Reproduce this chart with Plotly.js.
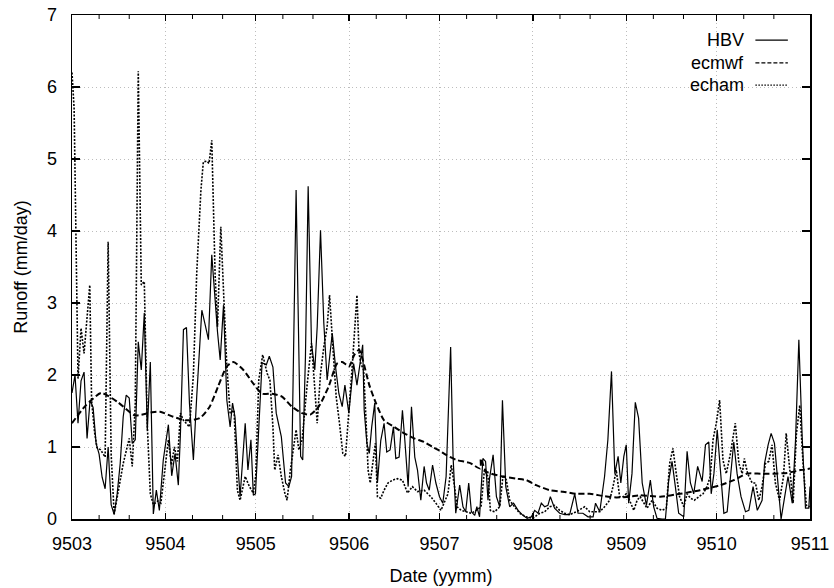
<!DOCTYPE html>
<html>
<head>
<meta charset="utf-8">
<script src="https://cdn.plot.ly/plotly-3.0.1.min.js"></script>
<style>html,body{margin:0;padding:0;background:#fff}#chart{width:834px;height:588px}</style>
</head>
<body>
<div id="chart"></div>
<script>
// Day offsets counted from 1995-03-01, values in mm/day
const startDate = '1995-03-01';
const monthLabels = ['9503','9504','9505','9506','9507','9508','9509','9510','9511'];
const monthDates = ['1995-03-01','1995-04-01','1995-05-01','1995-06-01','1995-07-01','1995-08-01','1995-09-01','1995-10-01','1995-11-01'];
const seriesNames = ['HBV','ecmwf','echam'];

const hbvDay = [0,1,2,3,4,5,6,7,8,9,10,11,12,13,14,15,16,17,18,19,20,21,22,23,24,25,26,27,28,29,30.3,
 32,33.1,34.2,35.3,36,37,38,39,40.3,41.4,43.1,44.2,45.3,46.4,47.5,48.3,49.2,50.3,51.4,52.5,53.3,54.1,55,55.8,57.5,58.4,59.4,60.2,60.9,
 62,63.1,64.5,65.5,66.7,67.8,69.5,70.9,72,72.9,74.4,75.9,76.6,77.5,78.4,79.5,80.6,81.4,82.5,83.6,84.7,85.5,86.4,87.5,88.6,89.7,90.6,91.9,
 92.6,93.5,94.6,95.7,96.5,97,97.9,98.7,99.5,100.5,101.4,102.5,103.6,104.5,105.6,106.7,107.5,108.6,109.7,110.5,111.6,112.7,113.8,114.7,115.8,116.9,117.7,118.6,119.7,120.8,122,123.1,124.2,
 125.7,126.5,127.4,128.7,129.8,130.7,131.7,132.6,133.7,134.4,135.3,136.4,137.3,138.1,138.6,139.8,140.9,142,142.9,144,145.3,146.6,148.1,149.7,151.1,152.5,153.6,154.7,155.8,156.9,158,158.8,160.2,161.9,163.6,165.2,166.9,168,169.6,171.3,173,173.8,175.2,176.8,177.9,179.1,180.2,181.3,182.2,183.2,
 184,184.8,185.9,187,188.1,189.3,190.7,192,193.1,194.2,195.9,197,198.1,199.2,200.3,201.4,203.1,204.2,205.3,206.4,207.7,209.2,210.3,211.4,212.2,213.1,214.2,215.3,216.4,217.5,218.6,219.7,220.8,222.1,223.6,224.7,226.1,227.5,229.1,229.9,231.1,232.1,233.2,234.1,235.4,236.6,237.7,239.1,240.2,241.3,242.4,243.5,244.6,245];
const hbvVal = [1.75,2.0,1.33,1.92,2.04,1.12,1.65,1.55,1.05,0.9,0.58,0.42,1.0,0.2,0.06,0.35,0.77,1.42,1.72,1.68,1.05,1.1,2.46,2.07,2.86,1.23,2.18,0.07,0.4,0.12,0.82,
 1.31,0.6,0.91,0.47,1.19,2.63,2.66,1.6,0.82,1.7,2.9,2.7,2.49,3.67,3.0,2.6,2.21,2.97,1.65,1.28,1.61,1.42,0.8,0.31,1.33,0.68,1.1,0.33,0.35,
 1.24,2.17,2.14,2.26,2.11,1.47,1.14,0.5,0.45,0.59,4.57,0.87,0.82,2.26,4.62,2.44,2.07,2.67,4.01,2.72,1.93,2.26,2.58,2.11,1.74,1.56,1.86,1.47,
 1.79,2.16,1.86,2.21,2.42,1.51,1.05,0.91,1.28,1.61,0.5,1.09,1.33,0.93,0.96,1.28,0.84,0.86,1.51,1.09,0.45,1.56,0.86,0.68,0.26,0.73,0.5,0.4,0.75,0.5,0.31,0.22,0.59,
 2.39,0.87,0.08,0.47,0.17,0.1,0.5,0.1,0.05,0.17,0.03,0.84,0.8,0.26,0.56,0.89,0.31,0.17,1.65,0.45,0.17,0.22,0.12,0.05,0.01,0.03,0.12,0.08,0.22,0.17,0.19,0.31,0.15,0.08,0.06,0.06,0.35,0.08,0.08,0.03,0.03,0.22,0.1,0.59,1.1,2.05,0.63,0.87,0.5,0.87,
 1.03,0.22,0.63,1.62,1.4,0.5,0.19,0.54,0.17,0.01,0.0,0.0,0.54,0.8,0.45,0.08,0.03,0.94,0.5,0.35,0.73,0.52,1.03,1.07,0.35,0.63,1.24,0.68,0.08,0.1,0.63,1.07,0.63,0.31,0.1,0.12,0.45,0.12,0.26,0.77,1.03,1.19,1.05,0.59,0.0,0.31,0.59,0.22,1.1,2.49,1.14,0.15,0.15,0.45];

const ecmwfDay = [0,4.2,9.7,15.3,20.8,26.3,29.2,33.6,38,42.4,45.7,48.5,51.4,53.6,56.9,60.2,63.1,66.4,69.7,73,76.4,79.1,81.9,85.2,88,89.7,92,93.7,95.3,96.4,98.7,100.9,103.6,106.9,110.3,113.6,116.9,119.7,122,124.2,127.6,132,135.6,135.7,137.5,141.9,147.5,150.8,154.1,158.6,163,167.4,171.9,176.3,180.7,185.2,188.6,195.3,201.9,208.5,215.3,219.7,224.1,228.6,233,237.4,241.9,245];
const ecmwfVal = [1.33,1.56,1.75,1.62,1.44,1.48,1.49,1.42,1.37,1.4,1.56,1.84,2.12,2.18,2.07,1.88,1.74,1.74,1.7,1.56,1.47,1.45,1.56,1.84,2.16,2.18,2.12,2.28,2.35,2.23,1.86,1.61,1.37,1.28,1.19,1.12,1.07,1.0,0.95,0.89,0.82,0.78,0.7,0.84,0.66,0.6,0.56,0.54,0.47,0.4,0.38,0.35,0.35,0.32,0.3,0.31,0.33,0.31,0.35,0.4,0.47,0.54,0.63,0.63,0.63,0.64,0.68,0.7];

const echamDay = [0,0.7,2,3,4,5.9,6.5,7.5,8.3,9.5,11,12,13,14,15,16,17,19,20,21,22,23,24,25,26,27,28.5,29.5,
 30.5,32,33,34,35,36,37,39,40.3,41.4,42.8,43.6,44.7,45.5,46.4,47.5,48.3,49.4,50.3,51.4,52.5,53.8,54.9,55.8,57.5,58.9,60.2,
 61,62,63.3,64.8,65.7,66.7,67.3,68.4,69.5,70.7,71.4,72.5,73.6,74.4,75.3,76.4,78,79.5,80.4,81.4,82.5,83.6,84.7,85.5,86.6,87.7,88.8,89.9,90.8,91.5,92.3,
 93.1,94.6,95.3,95.9,96.8,97.6,98.3,99,100.1,100.7,101.4,102.5,103.6,104.9,106.4,108,109.7,111.4,113,114.7,116.9,119.1,120.8,122.5,
 124.8,125.9,127,127.8,129.2,130.9,132.6,134.2,135.8,136.9,138.1,138.9,140.3,142,143.1,144.2,145.3,146.9,148.6,150.8,153,155.3,156.9,158.6,160.2,161.9,163.6,165.2,167.4,170.2,171.9,173.5,175.2,176.8,178.5,179.6,180.7,181.8,183,184,184.8,
 186.5,187.6,188.6,189.8,190.9,192.6,194.2,195.9,197.3,198.4,199.5,200.6,201.7,203.1,204.2,205.3,206.6,208.1,209.5,210.8,211.9,212.8,213.9,215,216.1,217.2,218.6,220.2,221.4,222.5,223.2,224.3,225.8,226.9,228,229.1,230.2,231.3,232.4,233.5,234.9,236.2,237.1,238.3,239.4,240.5,241.6,242.7,243.8,244.9];
const echamVal = [6.2,5.7,1.95,2.65,2.3,3.25,1.65,1.2,0.99,0.96,0.86,3.85,0.9,0.07,0.3,0.55,0.77,1.12,0.73,1.6,6.22,3.25,3.3,1.3,0.35,0.2,0.25,0.22,
 0.6,1.1,0.75,1.0,0.8,1.47,1.37,1.28,2.0,3.41,4.57,4.96,4.97,4.94,5.26,3.41,2.67,4.06,3.17,2.12,1.47,1.51,0.4,0.26,0.59,0.45,0.36,
 0.6,1.93,2.28,2.02,1.93,1.28,0.68,0.89,0.59,0.35,0.26,0.68,1.0,1.24,0.96,1.1,1.84,2.44,1.93,1.33,2.02,2.39,2.67,3.11,2.39,1.7,1.33,0.91,0.87,1.28,1.61,
 2.16,3.11,2.3,2.16,2.07,1.38,0.68,0.5,0.86,1.05,0.31,0.29,0.4,0.5,0.54,0.56,0.54,0.36,0.45,0.38,0.4,0.31,0.22,0.12,
 0.35,0.75,0.45,0.17,0.12,0.1,0.08,0.12,0.17,0.68,0.59,0.12,0.1,0.17,0.61,0.54,0.26,0.17,0.08,0.03,0.01,0.08,0.1,0.17,0.19,0.12,0.08,0.06,0.1,0.17,0.1,0.1,0.1,0.17,0.26,0.45,0.68,0.31,0.31,0.35,0.29,
 0.12,0.26,0.31,0.22,0.15,0.26,0.15,0.12,0.15,0.77,0.98,0.63,0.31,0.17,0.35,0.29,0.26,0.31,0.35,0.45,0.59,1.1,1.33,1.65,0.82,0.63,0.91,1.33,0.77,0.63,0.84,0.63,0.5,0.5,0.26,0.45,0.77,0.8,1.03,0.5,0.26,0.59,1.19,0.68,0.22,1.19,1.58,0.77,0.19,0.17];

const yTicks = [0,1,2,3,4,5,6,7];

const DAY = 86400000;
const base = Date.parse(startDate + 'T00:00:00Z');
const toX = ds => ds.map(d => base + d * DAY);

const font = 'Liberation Sans, Arial, Helvetica, sans-serif';

const traces = [
  {x: toX(hbvDay), y: hbvVal, name: seriesNames[0], type: 'scatter', mode: 'lines',
   line: {color: '#000', width: 1.2, dash: 'solid'}},
  {x: toX(ecmwfDay), y: ecmwfVal, name: seriesNames[1], type: 'scatter', mode: 'lines',
   line: {color: '#000', width: 2, dash: '6px,3px', shape: 'spline', smoothing: 0.6}},
  {x: toX(echamDay), y: echamVal, name: seriesNames[2], type: 'scatter', mode: 'lines',
   line: {color: '#000', width: 1.6, dash: '2px,1.5px'}}
];

// legend drawn gnuplot-style: text then line sample
const legendY = [0.95, 0.905, 0.861];
const legendDash = ['solid', '4px,2px', '1.5px,1.5px'];
const legendW = [1.2, 1.4, 1.3];
const annotations = seriesNames.map((n, i) => ({
  xref: 'paper', yref: 'paper', x: 0.913, y: legendY[i], xanchor: 'right', yanchor: 'middle',
  text: n, showarrow: false, font: {family: font, size: 18, color: '#000'}
}));
const shapes = seriesNames.map((n, i) => ({
  type: 'line', xref: 'paper', yref: 'paper', x0: 0.926, x1: 0.97, y0: legendY[i], y1: legendY[i],
  line: {color: '#000', width: legendW[i], dash: legendDash[i]}
}));

// minor ticks on the 10th and 20th of each month, bottom and top borders
const minorLen = 4 / 504;
monthDates.slice(0, -1).forEach(m => {
  ['10', '20'].forEach(dd => {
    const xv = m.slice(0, 8) + dd;
    shapes.push({type: 'line', xref: 'x', yref: 'paper', x0: xv, x1: xv, y0: 0, y1: minorLen, line: {color: '#000', width: 1}});
    shapes.push({type: 'line', xref: 'x', yref: 'paper', x0: xv, x1: xv, y0: 1, y1: 1 - minorLen, line: {color: '#000', width: 1}});
  });
});

const layout = {
  width: 834, height: 588,
  margin: {l: 72, r: 24, t: 15, b: 69},
  paper_bgcolor: '#fff', plot_bgcolor: '#fff',
  showlegend: false,
  font: {family: font, size: 18, color: '#000'},
  xaxis: {
    type: 'date', range: [monthDates[0], monthDates[monthDates.length - 1]],
    tickmode: 'array', tickvals: monthDates, ticktext: monthLabels,
    ticks: 'inside', ticklen: 6, tickwidth: 1.3, tickcolor: '#000',
    showline: true, linecolor: '#000', linewidth: 1.5, mirror: 'ticks',
    showgrid: true, gridcolor: '#bdbdbd', griddash: '1px,3px', gridwidth: 1,
    zeroline: false, ticklabelstandoff: 8,
    title: {text: 'Date (yymm)', font: {family: font, size: 18}, standoff: 16}
  },
  yaxis: {
    range: [0, 7], tickvals: yTicks, tickmode: 'array',
    ticks: 'inside', ticklen: 8, tickwidth: 1.3, tickcolor: '#000',
    showline: true, linecolor: '#000', linewidth: 1.5, mirror: 'ticks',
    showgrid: true, gridcolor: '#bdbdbd', griddash: '1px,3px', gridwidth: 1,
    zeroline: false, ticklabelstandoff: 10,
    title: {text: 'Runoff (mm/day)', font: {family: font, size: 18}, standoff: 14}
  },
  annotations: annotations,
  shapes: shapes
};

Plotly.newPlot('chart', traces, layout, {staticPlot: true, displayModeBar: false});
</script>
</body>
</html>
